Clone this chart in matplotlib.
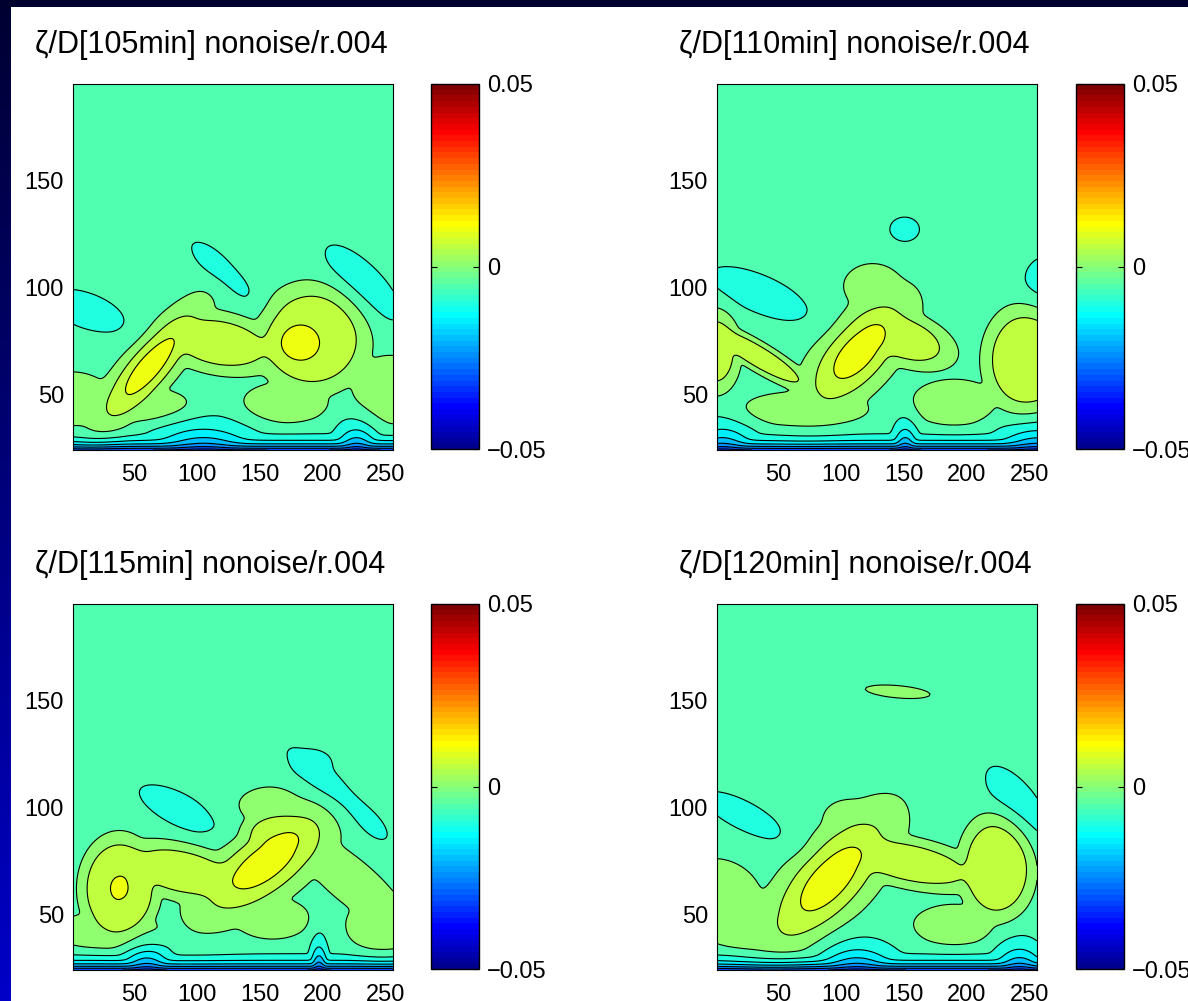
import numpy as np
import matplotlib
matplotlib.use("Agg")
import matplotlib.pyplot as plt
from matplotlib.colors import ListedColormap, Normalize, LinearSegmentedColormap
from matplotlib.patches import Rectangle
from matplotlib.cm import ScalarMappable

plt.rcParams['font.family'] = ['Liberation Sans', 'DejaVu Sans']
plt.rcParams['contour.negative_linestyle'] = 'solid'

# grid of the model domain
x_vals = np.arange(1, 257)
y_vals = np.arange(24, 196)

titles = ['ζ/D[105min] nonoise/r.004', 'ζ/D[110min] nonoise/r.004',
          'ζ/D[115min] nonoise/r.004', 'ζ/D[120min] nonoise/r.004']
levels = np.arange(-0.05, 0.0501, 0.005)
clim = (-0.05, 0.05)
x_ticks = [50, 100, 150, 200, 250]
y_ticks = [50, 100, 150]
cbar_ticks = [-0.05, 0, 0.05]
cbar_labels = ['\u22120.05', '0', '0.05']

bg_level = -0.0025

# vorticity anomalies: x0, y0, a, b, angle, amplitude, shape exponent
# (rows with y0 = 10 are the boundary layer at the bottom)
blobs_105 = [
    [62, 63, 40, 12, 50, 0.016, 1],
    [181, 74, 19, 17, 0, 0.0145, 1],
    [118, 74, 35.5, 17.2, -10, 0.0095, 2],
    [192, 76, 31.4, 30.5, 0, 0.011, 2],
    [0, 47, 28, 19.5, 0, 0.005, 1],
    [256, 52, 26, 22, 0, 0.005, 2],
    [170, 46, 27, 12.8, 0, 0.005, 2],
    [55, 45, 32, 11, 0, 0.005, 2],
    [12, 89, 27, 12, -20, -0.005, 1],
    [119, 108, 26, 9, -43, -0.005, 1],
    [232, 102, 34, 12.7, -45, -0.005, 1],
    [128, 10, 1e5, 12.75, 0, -0.157, 1],
    [105, 10, 28, 22, 0, -0.04, 1],
    [227, 10, 12, 22, 0, -0.04, 1],
]
blobs_110 = [
    [113, 69.5, 36, 17, 48.5, 0.016, 1],
    [150, 76, 30, 15, -20, 0.0095, 2],
    [0, 70, 14, 24, 0, 0.0095, 2],
    [33, 68, 38.5, 8, -31, 0.0095, 2],
    [248, 66, 24, 31, 0, 0.0115, 2],
    [70, 43, 40, 11, 0, 0.005, 2],
    [190, 46, 27, 14.6, 0, 0.005, 2],
    [125, 100, 20, 16, 0, 0.005, 1],
    [150.5, 127, 10.2, 8.4, 0, -0.005, 1],
    [35, 97, 36, 12.7, -23, -0.005, 1],
    [266, 103, 17, 17, 0, -0.005, 1],
    [128, 10, 1e5, 12.75, 0, -0.157, 1],
    [5, 10, 18, 22, 0, -0.04, 1],
    [151, 10, 7, 22, 0, -0.04, 1],
    [256, 10, 22, 22, 0, -0.04, 1],
]
blobs_115 = [
    [154, 74, 42, 18, 37, 0.016, 1],
    [38, 62, 21.5, 29, 0, 0.01254, 2],
    [88, 70, 38, 16, -12, 0.0095, 2],
    [165, 88, 22, 12, 0, 0.0095, 2],
    [222, 66, 45, 14, -40, 0.005, 2],
    [248, 45, 23, 18.2, 0, 0.005, 2],
    [30, 42, 36.5, 11.9, 0, 0.005, 2],
    [160, 48, 23, 12.8, 0, 0.005, 2],
    [160, 100, 24, 14, 0, 0.005, 1],
    [86, 99, 30, 11, -26.5, -0.005, 1],
    [192, 120, 14, 10, 0, -0.005, 1],
    [212, 106, 40, 11, -42, -0.006, 1],
    [128, 10, 1e5, 12.75, 0, -0.157, 1],
    [60, 10, 14, 22, 0, -0.04, 1],
    [197, 10, 5, 23, 0, -0.04, 1],
]
blobs_120 = [
    [90.8, 66.2, 44.7, 19, 48, 0.016, 1],
    [155, 74, 44, 14, -12, 0.0095, 2],
    [224, 72, 21, 30, 0, 0.0115, 2],
    [5, 60, 28, 22, -25, 0.005, 1],
    [35, 42, 35, 12.8, 0, 0.005, 2],
    [190, 45, 25.5, 12.8, 0, 0.005, 2],
    [105, 95, 16, 12, 0, 0.005, 1],
    [145, 154, 24, 4.5, -5, 0.0045, 1],
    [22, 96, 30, 10, -27.5, -0.005, 1],
    [240, 102, 30, 13, -51.5, -0.005, 1],
    [128, 10, 1e5, 12.75, 0, -0.157, 1],
    [112, 10, 22, 22, 0, -0.04, 1],
    [242, 10, 14, 22, 0, -0.04, 1],
]
all_blobs = [blobs_105, blobs_110, blobs_115, blobs_120]

ASPECT = 1.7   # y units -> x units on screen
PNORM = 4


def jet64():
    '''MATLAB style jet(64)'''
    n = 16
    u = np.concatenate([np.arange(1, n + 1) / n, np.ones(n - 1), np.arange(n, 0, -1) / n])
    g = 8 + np.arange(1, len(u) + 1)
    cm = np.zeros((64, 3))
    for ch, rows in ((0, g + n), (1, g), (2, g - n)):
        ok = (rows >= 1) & (rows <= 64)
        cm[rows[ok] - 1, ch] = u[ok]
    return cm


def build_field(blobs):
    X, Y = np.meshgrid(x_vals, y_vals)
    pos = np.zeros(X.shape)
    neg = np.zeros(X.shape)
    for x0, y0, a, b, ang, amp, q in blobs:
        u = X - x0
        v = (Y - y0) * ASPECT
        t = np.deg2rad(ang)
        ur = u * np.cos(t) + v * np.sin(t)
        vr = -u * np.sin(t) + v * np.cos(t)
        r2 = (ur / a) ** 2 + (vr / b) ** 2
        val = abs(amp) * np.exp(-(r2 / 2) ** q)
        if amp > 0:
            pos += val ** PNORM
        else:
            neg += val ** PNORM
    return bg_level + pos ** (1 / PNORM) - neg ** (1 / PNORM)


cmap_colors = jet64()
fill_colors = []
for lv in levels[:-1]:
    idx = int(np.floor((lv - clim[0]) / (clim[1] - clim[0]) * 64 + 1e-6))
    fill_colors.append(cmap_colors[min(max(idx, 0), 63)])

W, H = 1188, 1001
fig = plt.figure(figsize=(W / 100, H / 100), dpi=100)
fig.patch.set_facecolor('white')

# dark frame: top band and left gradient strip
fig.patches.append(Rectangle((0, 1 - 7 / H), 1, 7 / H, transform=fig.transFigure,
                             facecolor='#00002e', edgecolor='none', zorder=0))
strip = fig.add_axes([0, 0, 11 / W, 1 - 7 / H])
strip.imshow(np.linspace(0, 1, 256).reshape(-1, 1), aspect='auto',
             cmap=LinearSegmentedColormap.from_list('frame', ['#000033', '#0000c8']))
strip.set_axis_off()

ax_left = [73, 717]
ax_top = [84, 604]
cb_left = [431, 1076]
ax_w, ax_h = 320, 366
cb_w = 48

for k in range(4):
    row, col = divmod(k, 2)
    left = ax_left[col]
    top = ax_top[row]
    ax = fig.add_axes([left / W, 1 - (top + ax_h) / H, ax_w / W, ax_h / H])
    Z = build_field(all_blobs[k])
    ax.contourf(x_vals, y_vals, Z, levels=levels, colors=fill_colors)
    ax.contour(x_vals, y_vals, Z, levels=levels, colors='k', linewidths=0.8,
               linestyles='solid')
    ax.set_xlim(1, 256)
    ax.set_ylim(24, 195)
    ax.set_xticks(x_ticks)
    ax.set_yticks(y_ticks)
    ax.tick_params(axis='x', length=0, labelsize=17, pad=10)
    ax.tick_params(axis='y', length=0, labelsize=17, pad=6.5)
    for sp in ax.spines.values():
        sp.set_linewidth(0.8)
    fig.text((left - 38) / W, 1 - (top - 30.5) / H, titles[k], fontsize=22,
             ha='left', va='baseline')

    cax = fig.add_axes([cb_left[col] / W, 1 - (top + 365) / H, cb_w / W, 365 / H])
    sm = ScalarMappable(norm=Normalize(*clim), cmap=ListedColormap(cmap_colors))
    cb = fig.colorbar(sm, cax=cax, ticks=cbar_ticks)
    cb.ax.set_yticklabels(cbar_labels)
    cb.ax.tick_params(direction='in', length=4, width=0.8, left=True, right=True,
                      labelsize=17, pad=6)
    cb.outline.set_linewidth(1.0)

fig.savefig('out.png', dpi=100)
